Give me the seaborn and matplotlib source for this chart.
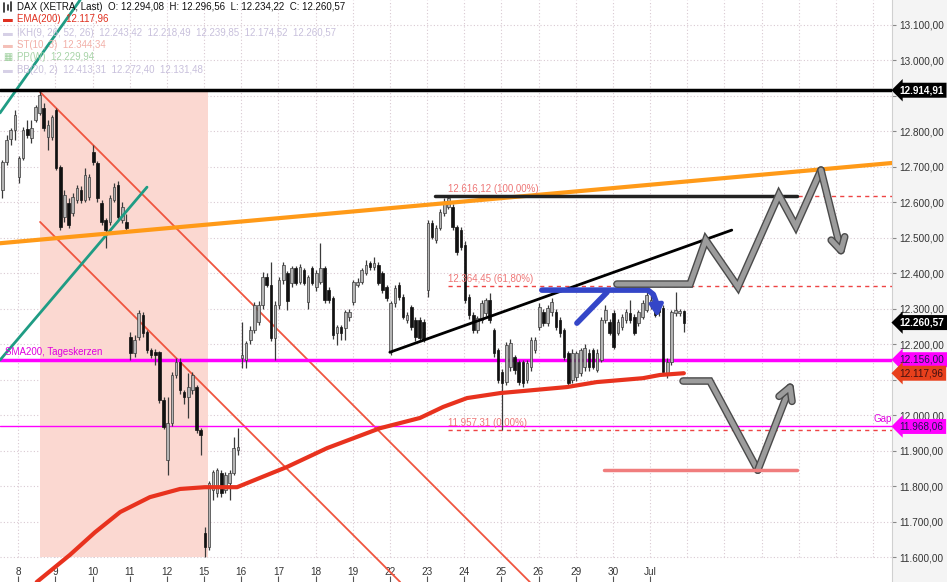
import numpy as np
import pandas as pd
import matplotlib
matplotlib.use("Agg")
import matplotlib.pyplot as plt
import matplotlib.patheffects as pe
from matplotlib.patches import FancyArrowPatch
from matplotlib.lines import Line2D
from matplotlib.ticker import FuncFormatter
import seaborn as sns

# ---------------- data (hourly candles, DAX XETRA, 5 Jun - 1 Jul) ----------------
opens = [12634, 12713, 12777, 12803,
         12670, 12724, 12806, 12780, 12831, 12851, 12865, 12783, 12783,
         12859, 12699, 12558, 12597, 12569, 12606, 12634, 12606, 12614,
         12741, 12710, 12597, 12549, 12544, 12606, 12648, 12549, 12544,
         12220, 12175, 12220, 12281, 12234, 12183, 12177, 12177, 12042,
         11873, 11977, 12113, 12149, 12065, 12051, 12070, 12079, 11958,
         11668, 11628, 11789, 11780, 11837, 11789, 11808, 11837, 11901,
         12161, 12155, 12211, 12239, 12262, 12310, 12389, 12366, 12217,
         12310, 12380, 12400, 12372, 12414, 12375, 12408, 12318, 12414,
         12360, 12375, 12414, 12352, 12330, 12231, 12248, 12245, 12276,
         12318, 12366, 12375, 12400, 12428, 12417, 12423, 12400, 12360,
         12177, 12315, 12366, 12332, 12268, 12304, 12268, 12268, 12262,
         12352, 12541, 12493, 12527, 12569, 12586, 12586, 12530, 12521,
         12479, 12332, 12281, 12239, 12268, 12287, 12324, 12239, 12183,
         12121, 12093, 12135, 12163, 12149, 12149, 12099, 12135, 12183,
         12248, 12290, 12259, 12290, 12290, 12268, 12239, 12175, 12099,
         12107, 12118, 12135, 12175, 12183, 12127, 12155, 12268, 12262,
         12287, 12231, 12248, 12268, 12287, 12276, 12259, 12276, 12296,
         12310, 12310, 12310, 12301, 12118, 12149, 12287, 12287, 12294.08]
highs = [12718, 12789, 12808, 12859,
         12730, 12810, 12831, 12831, 12873, 12913, 12880, 12831, 12845,
         12865, 12704, 12634, 12610, 12625, 12648, 12645, 12696, 12680,
         12761, 12715, 12606, 12555, 12620, 12655, 12660, 12600, 12565,
         12234, 12225, 12296, 12290, 12240, 12190, 12185, 12180, 12050,
         12051, 12120, 12161, 12160, 12070, 12118, 12120, 12085, 11965,
         11685, 11815, 11845, 11850, 11845, 11840, 11845, 11938, 11963,
         12262, 12210, 12250, 12318, 12320, 12403, 12400, 12431, 12320,
         12390, 12430, 12405, 12420, 12420, 12425, 12415, 12395, 12420,
         12410, 12484, 12420, 12360, 12335, 12255, 12255, 12296, 12300,
         12380, 12385, 12415, 12437, 12435, 12445, 12430, 12405, 12365,
         12320, 12365, 12375, 12340, 12290, 12310, 12275, 12275, 12270,
         12550, 12550, 12535, 12580, 12611, 12616, 12595, 12535, 12530,
         12490, 12340, 12290, 12280, 12325, 12330, 12343, 12245, 12190,
         12130, 12205, 12215, 12170, 12155, 12155, 12155, 12220, 12220,
         12315, 12300, 12310, 12330, 12300, 12275, 12245, 12180, 12185,
         12180, 12190, 12200, 12185, 12190, 12185, 12275, 12310, 12270,
         12295, 12270, 12285, 12300, 12324, 12285, 12296, 12325, 12352,
         12340, 12320, 12318, 12310, 12160, 12296, 12346, 12300, 12296.56]
lows = [12611, 12704, 12761, 12775,
        12655, 12718, 12780, 12766, 12825, 12845, 12800, 12746, 12775,
        12690, 12520, 12544, 12527, 12560, 12597, 12597, 12600, 12605,
        12705, 12600, 12535, 12470, 12535, 12600, 12550, 12540, 12515,
        12155, 12165, 12211, 12220, 12175, 12160, 12141, 12035, 11960,
        11831, 11970, 12105, 12060, 12030, 11992, 12060, 11950, 11887,
        11600, 11620, 11761, 11770, 11770, 11780, 11761, 11830, 11887,
        12132, 12132, 12200, 12230, 12255, 12300, 12360, 12210, 12155,
        12300, 12370, 12295, 12360, 12365, 12370, 12365, 12300, 12365,
        12350, 12370, 12315, 12315, 12215, 12197, 12211, 12211, 12265,
        12310, 12360, 12370, 12395, 12410, 12410, 12365, 12345, 12320,
        12170, 12305, 12325, 12270, 12260, 12240, 12210, 12210, 12205,
        12332, 12495, 12485, 12520, 12560, 12580, 12520, 12450, 12465,
        12315, 12270, 12230, 12230, 12260, 12280, 12260, 12165, 12090,
        11957, 12085, 12125, 12115, 12085, 12080, 12090, 12125, 12175,
        12240, 12250, 12250, 12280, 12240, 12220, 12155, 12080, 12090,
        12095, 12110, 12125, 12125, 12130, 12120, 12150, 12260, 12225,
        12185, 12225, 12240, 12260, 12260, 12225, 12250, 12270, 12290,
        12300, 12275, 12280, 12115, 12104, 12140, 12280, 12280, 12234.22]
closes = [12713, 12775, 12803, 12845,
          12724, 12803, 12789, 12808, 12868, 12901, 12808, 12817, 12839,
          12696, 12530, 12620, 12535, 12614, 12639, 12606, 12676, 12670,
          12713, 12611, 12544, 12521, 12611, 12642, 12558, 12586, 12527,
          12175, 12211, 12287, 12231, 12183, 12169, 12169, 12042, 11966,
          11977, 12113, 12149, 12070, 12051, 12079, 12113, 11958, 11945,
          11628, 11808, 11839, 11845, 11780, 11831, 11837, 11907, 11910,
          12169, 12203, 12239, 12310, 12310, 12389, 12366, 12217, 12310,
          12380, 12423, 12320, 12414, 12372, 12417, 12372, 12389, 12372,
          12400, 12414, 12324, 12324, 12225, 12248, 12231, 12290, 12290,
          12375, 12375, 12408, 12423, 12417, 12428, 12372, 12352, 12330,
          12315, 12358, 12332, 12276, 12281, 12248, 12220, 12217, 12211,
          12541, 12501, 12527, 12572, 12600, 12611, 12530, 12459, 12473,
          12324, 12281, 12239, 12273, 12315, 12324, 12268, 12175, 12099,
          12090, 12197, 12203, 12127, 12093, 12090, 12147, 12211, 12211,
          12304, 12259, 12301, 12318, 12248, 12231, 12163, 12090, 12175,
          12175, 12183, 12189, 12135, 12135, 12175, 12268, 12296, 12231,
          12192, 12262, 12276, 12290, 12268, 12231, 12290, 12315, 12338,
          12324, 12281, 12290, 12121, 12149, 12290, 12296, 12293, 12260.57]

day_labels = ["8", "9", "10", "11", "12", "15", "16", "17", "18", "19",
              "22", "23", "24", "25", "26", "29", "30", "Jul"]
price_ticks = list(range(11600, 13101, 100))
hidden_tick_labels = [12900, 12100]   # covered by price boxes in the original

# EMA(200) (candle index, value)
ema_idx = [8.3, 16.3, 22.4, 28.5, 35.7, 43.0, 49.0, 56.8, 62.3, 68.9, 78.6, 91.4,
           101.1, 106.7, 112.5, 120.5, 136.7, 143.9, 155.1, 159.2, 165.0]
ema_val = [11530, 11606, 11670, 11727, 11769, 11792, 11797, 11797, 11823, 11854,
           11907, 11963, 11992, 12023, 12048, 12062, 12079, 12093, 12104, 12113, 12117.96]

# levels
high_level = 12914.91
last_price = 12260.57
sma200 = 12156.00
ema_last = 12117.96
gap_level = 11968.06
fib_levels = [12616.12, 12364.45, 11957.31]
fib_texts = ["12.616,12 (100,00%)", "12.364,45 (61,80%)", "11.957,31 (0,00%)"]

# drawn annotation lines (candle index, price)
orange_idx, orange_val = [-0.6, 215.4], [12484, 12710]
teal1_idx, teal1_val = [-0.6, 18.8], [12851, 13169]
teal2_idx, teal2_val = [-0.6, 35.0], [12155, 12642]
red_up_idx, red_up_val = [9.1, 127.7], [12910, 11530]
red_lo_idx, red_lo_val = [9.1, 96.3], [12544, 11530]
black_trend_idx, black_trend_val = [93.8, 176.6], [12177, 12521]
top_line_idx, top_line_val = [104.7, 192.4], [12616.12, 12616.12]
zone_idx, zone_val = [9.1, 49.8], [11600, 12914.91]
blue_h_idx = [130.6, 156.3, 157.6, 158.3]
blue_h_val = [12352, 12352, 12340, 12318]
blue_d_idx, blue_d_val = [139.1, 146.4], [12259, 12346]
blue_arrow_idx, blue_arrow_val = [158.3, 158.6], [12318, 12276]
grey_up_idx = [148.8, 166.5, 170.3, 178.1, 188.0, 192.1, 198.2, 203.5]
grey_up_val = [12369, 12369, 12493, 12361, 12620, 12532, 12690, 12442]
grey_dn_idx = [164.8, 171.3, 182.9, 191.4]
grey_dn_val = [12096, 12096, 11845, 12099]
pink_idx, pink_val = [145.6, 192.4], [11845, 11845]

# ---------------- styling ----------------
sns.set_theme(style="white")
plt.rcParams['font.family'] = ['Liberation Sans', 'DejaVu Sans']


def de(v):
    return f"{v:,.2f}".replace(",", "X").replace(".", ",").replace("X", ".")


W, H = 947, 582
fig = plt.figure(figsize=(W / 100, H / 100), dpi=100)
fig.patch.set_facecolor('#f4f4f4')
ax = fig.add_axes([0, 0, 892 / W, 1])
ax.set_facecolor('white')
ax.set_xlim(-0.6, 215.4)
ax.set_ylim(11530, 13169)

n = len(closes)
idx = np.arange(n)
df = pd.DataFrame({"i": idx, "o": opens, "h": highs, "l": lows, "c": closes})

# grid
grid_kw = dict(color='#d9c9d2', lw=0.8, linestyle=(0, (1, 2)), zorder=0)
ax.hlines(price_ticks, -0.6, 215.4, **grid_kw)
grid_x = [3.8 + 9 * d for d in range(24)]
ax.vlines(grid_x, 11600, 13169, **grid_kw)

# pink zone
ax.fill_between(zone_idx, zone_val[0], zone_val[1], color='#fbd8d1', zorder=1, lw=0)

# lines under candles
ax.plot(red_up_idx, red_up_val, color='#f0553f', lw=1.3, zorder=2)
ax.plot(red_lo_idx, red_lo_val, color='#f0553f', lw=1.3, zorder=2)
ax.plot(teal1_idx, teal1_val, color='#1f9c84', lw=2, zorder=2)
ax.plot(teal2_idx, teal2_val, color='#1f9c84', lw=2, zorder=5)
ax.plot(orange_idx, orange_val, color='#ff9a18', lw=3, zorder=5)

# horizontal levels
ax.axhline(high_level, color='black', lw=2.5, zorder=6)
ax.axhline(sma200, color='#ff00ff', lw=2.5, zorder=3)
ax.axhline(gap_level, color='#ff00ff', lw=1.0, zorder=3)
for lv, tx in zip(fib_levels, fib_texts):
    ax.plot([107.9, 215.4], [lv, lv], color='#ee4444', lw=1.0, linestyle=(0, (3, 3)), zorder=3)
    ax.text(107.9, lv + 6, tx, color='#ee7777', fontsize=7, va='bottom', ha='left', zorder=7)

# candles
up = df[df.c >= df.o]
dn = df[df.c < df.o]
ax.vlines(df.i, df.l, df.h, color='#3a3a3a', lw=0.9, zorder=4)
bh_up = np.maximum(up.c - up.o, 4)
bh_dn = np.maximum(dn.o - dn.c, 4)
ax.bar(up.i, bh_up, bottom=up.o, width=0.62, color='#b4b4b4', edgecolor='#3a3a3a', lw=0.5, zorder=4)
ax.bar(dn.i, bh_dn, bottom=dn.c, width=0.62, color='#111111', edgecolor='#111111', lw=0.5, zorder=4)

# EMA 200
sns.lineplot(x=ema_idx, y=ema_val, ax=ax, color='#e8321e', lw=3, sort=False, zorder=5)

# black trend + top line
ax.plot(black_trend_idx, black_trend_val, color='black', lw=2, zorder=6)
ax.plot(top_line_idx, top_line_val, color='#222222', lw=2.5, zorder=6)

# blue drawing
blue = '#3446c8'
ax.plot(blue_h_idx, blue_h_val, color=blue, lw=4, zorder=7, solid_capstyle='round', solid_joinstyle='round')
ax.plot(blue_d_idx, blue_d_val, color=blue, lw=4, zorder=7, solid_capstyle='round')
ax.add_patch(FancyArrowPatch((blue_arrow_idx[0], blue_arrow_val[0]), (blue_arrow_idx[1], blue_arrow_val[1]),
                             arrowstyle='-|>,head_length=7,head_width=4', color=blue, lw=3,
                             zorder=7, mutation_scale=1, shrinkA=0, shrinkB=0))

# grey projection paths
gfx = [pe.Stroke(linewidth=5.5, foreground='#4a4a4a'), pe.Normal()]
ax.plot(grey_up_idx[:-1], grey_up_val[:-1], color='#9c9c9c', lw=3.5, zorder=7, path_effects=gfx,
        solid_joinstyle='miter')
ax.plot(grey_dn_idx[:-1], grey_dn_val[:-1], color='#9c9c9c', lw=3.5, zorder=7, path_effects=gfx,
        solid_joinstyle='miter')
for xs, ys in [(grey_up_idx, grey_up_val), (grey_dn_idx, grey_dn_val)]:
    arr = FancyArrowPatch((xs[-2], ys[-2]), (xs[-1], ys[-1]),
                          arrowstyle='->,head_length=9,head_width=5', color='#9c9c9c', lw=3.5,
                          zorder=7, mutation_scale=1, path_effects=gfx, shrinkA=0)
    ax.add_patch(arr)
ax.plot(pink_idx, pink_val, color='#f07d7d', lw=2.5, zorder=7)

# texts on chart
ax.text(0.5, sma200 + 8, "SMA200, Tageskerzen", color='#e000e0', fontsize=7, va='bottom', ha='left', zorder=8)
ax.text(211, gap_level + 6, "Gap", color='#e000e0', fontsize=7, va='bottom', ha='left', zorder=8)

# axes
ax.yaxis.tick_right()
ax.set_yticks(price_ticks)
ax.yaxis.set_major_formatter(FuncFormatter(lambda v, p: '' if round(v) in hidden_tick_labels else de(v)))
ax.tick_params(axis='y', direction='out', length=3, width=0.8, color='#888888', labelsize=7.2,
               labelcolor='#333333', pad=2.5, right=True, left=False)
ax.set_xticks([3.8 + 9 * d for d in range(len(day_labels))])
ax.set_xticklabels(day_labels)
ax.tick_params(axis='x', direction='in', length=4, width=0.8, color='#555555', labelsize=7.2,
               labelcolor='#333333', pad=-11, bottom=True)
for s in ['top', 'left', 'bottom']:
    ax.spines[s].set_visible(False)
ax.spines['right'].set_color('#d0d0d0')
ax.spines['right'].set_linewidth(0.8)
ax.set_xlabel('')
ax.set_ylabel('')

# price boxes on right axis
boxes = [(high_level, 'black', 'white', 'bold'), (last_price, 'black', 'white', 'bold'),
         (sma200, '#ff00ff', '#1a1a50', 'normal'), (ema_last, '#e8401c', '#401010', 'normal'),
         (gap_level, '#ff00ff', '#1a1a50', 'normal')]
for v, fc, tc, fw in boxes:
    ax.annotate(de(v), xy=(1.0, v), xycoords=('axes fraction', 'data'), xytext=(5.5, 0),
                textcoords='offset points', ha='left', va='center', fontsize=7.2, color=tc,
                fontweight=fw, annotation_clip=False, zorder=10,
                bbox=dict(boxstyle='larrow,pad=0.25', fc=fc, ec='none'))

# legend header
def ftext(x, y, s, color, **kw):
    fig.text(x / W, 1 - y / H, s, color=color, fontsize=7, va='center', ha='left', **kw)


# small candle icon for the DAX row (drawn shape)
for xx, y0, y1 in [(4, 3, 12), (7.5, 5, 10), (11, 2, 11)]:
    fig.add_artist(Line2D([xx / W, xx / W], [1 - y0 / H, 1 - y1 / H], color='#222222', lw=1.2))
ftext(17, 7, "DAX (XETRA, Last)  O: 12.294,08  H: 12.296,56  L: 12.234,22  C: 12.260,57", '#111111')
ftext(3, 19, "▬", '#e03020')
ftext(17, 19, "EMA(200)  12.117,96", '#e03020')
ftext(3, 33, "▬", '#d6d0e6')
ftext(17, 33, "IKH(9, 26, 52, 26)  12.243,42  12.218,49  12.239,85  12.174,52  12.260,57", '#c8c0dc')
ftext(3, 45, "▬", '#f4c0b8')
ftext(17, 45, "ST(10, 3)  12.344,34", '#f2b0a8')
ftext(3, 57, "▦", '#9ccf9c')
ftext(17, 57, "PP(W)  12.229,94", '#a8d4a8')
ftext(3, 70, "▬", '#d6d0e6')
ftext(17, 70, "BB(20, 2)  12.413,31  12.272,40  12.131,48", '#c8c0dc')

fig.savefig("out.png", dpi=100, facecolor=fig.get_facecolor())
